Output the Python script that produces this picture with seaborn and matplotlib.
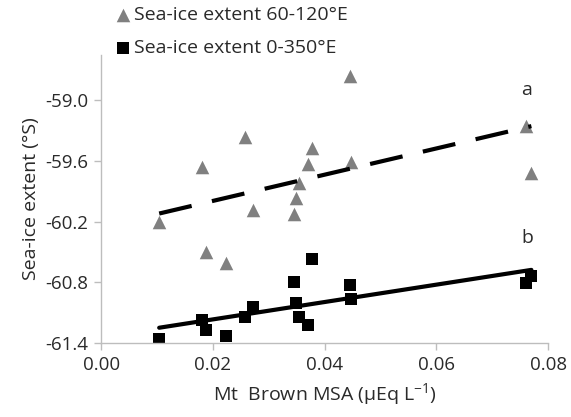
import matplotlib
matplotlib.use("Agg")
import matplotlib.pyplot as plt
import seaborn as sns

# Mt Brown MSA (same samples for both series)
msa = [0.0104, 0.0180, 0.0188, 0.0223, 0.0257, 0.0271, 0.0345, 0.0348,
       0.0355, 0.0370, 0.0377, 0.0445, 0.0448, 0.0761, 0.0770]

# sea-ice extent 60-120E
ice_60_120 = [-60.20, -59.66, -60.50, -60.61, -59.36, -60.08, -60.12, -59.97,
              -59.82, -59.63, -59.47, -58.76, -59.61, -59.25, -59.72]

# sea-ice extent 0-350E
ice_0_350 = [-61.36, -61.17, -61.27, -61.33, -61.14, -61.04, -60.80, -61.00,
             -61.14, -61.22, -60.57, -60.83, -60.96, -60.81, -60.74]

xticks = [0.00, 0.02, 0.04, 0.06, 0.08]
yticks = [-61.4, -60.8, -60.2, -59.6, -59.0]

sns.set_style("white")
plt.rcParams['font.family'] = ['Open Sans', 'DejaVu Sans']
plt.rcParams['mathtext.default'] = 'regular'

fig = plt.figure(figsize=(5.71, 4.17), dpi=100)
ax = fig.add_axes([0.177, 0.177, 0.783, 0.692])

sns.regplot(x=msa, y=ice_60_120, ax=ax, ci=None, truncate=True, marker='^',
            label='Sea-ice extent 60-120°E',
            scatter_kws=dict(s=95, color='#808080', linewidths=0, alpha=1),
            line_kws=dict(color='black', lw=3, linestyle=(0, (8, 5))))
sns.regplot(x=msa, y=ice_0_350, ax=ax, ci=None, truncate=True, marker='s',
            label='Sea-ice extent 0-350°E',
            scatter_kws=dict(s=80, color='black', linewidths=0, alpha=1),
            line_kws=dict(color='black', lw=3))

ax.set_xlim(0, 0.08)
ax.set_ylim(-61.4, -58.55)
ax.set_xticks(xticks)
ax.set_xticklabels([f'{v:.2f}' for v in xticks])
ax.set_yticks(yticks)
ax.set_yticklabels([f'{v:.1f}' for v in yticks])

for side in ['top', 'right']:
    ax.spines[side].set_visible(False)
for side in ['left', 'bottom']:
    ax.spines[side].set_color('#bdbdbd')
    ax.spines[side].set_linewidth(1)
ax.tick_params(axis='both', which='major', direction='out', length=5, width=1,
               color='#bdbdbd', labelsize=13.5, labelcolor='#2a2a2a', pad=4,
               bottom=True, left=True)

ax.set_xlabel('Mt  Brown MSA (μEq L$^{-1}$)', fontsize=14, color='#2a2a2a', labelpad=5)
ax.set_ylabel('Sea-ice extent (°S)', fontsize=14, color='#2a2a2a', labelpad=4)

ax.text(0.0761, -58.90, 'a', fontsize=14, color='#2a2a2a', ha='center', va='center')
ax.text(0.0763, -60.36, 'b', fontsize=14, color='#2a2a2a', ha='center', va='center')

leg = ax.legend(loc='upper left', bbox_to_anchor=(0.195, 0.99), bbox_transform=fig.transFigure,
                frameon=True, facecolor='white', edgecolor='white', framealpha=1,
                fontsize=14, labelspacing=0.75, handletextpad=0.05, handlelength=1.0,
                borderpad=0.1, borderaxespad=0)
for t in leg.get_texts():
    t.set_color('#2a2a2a')

fig.savefig('out.png', dpi=100)
